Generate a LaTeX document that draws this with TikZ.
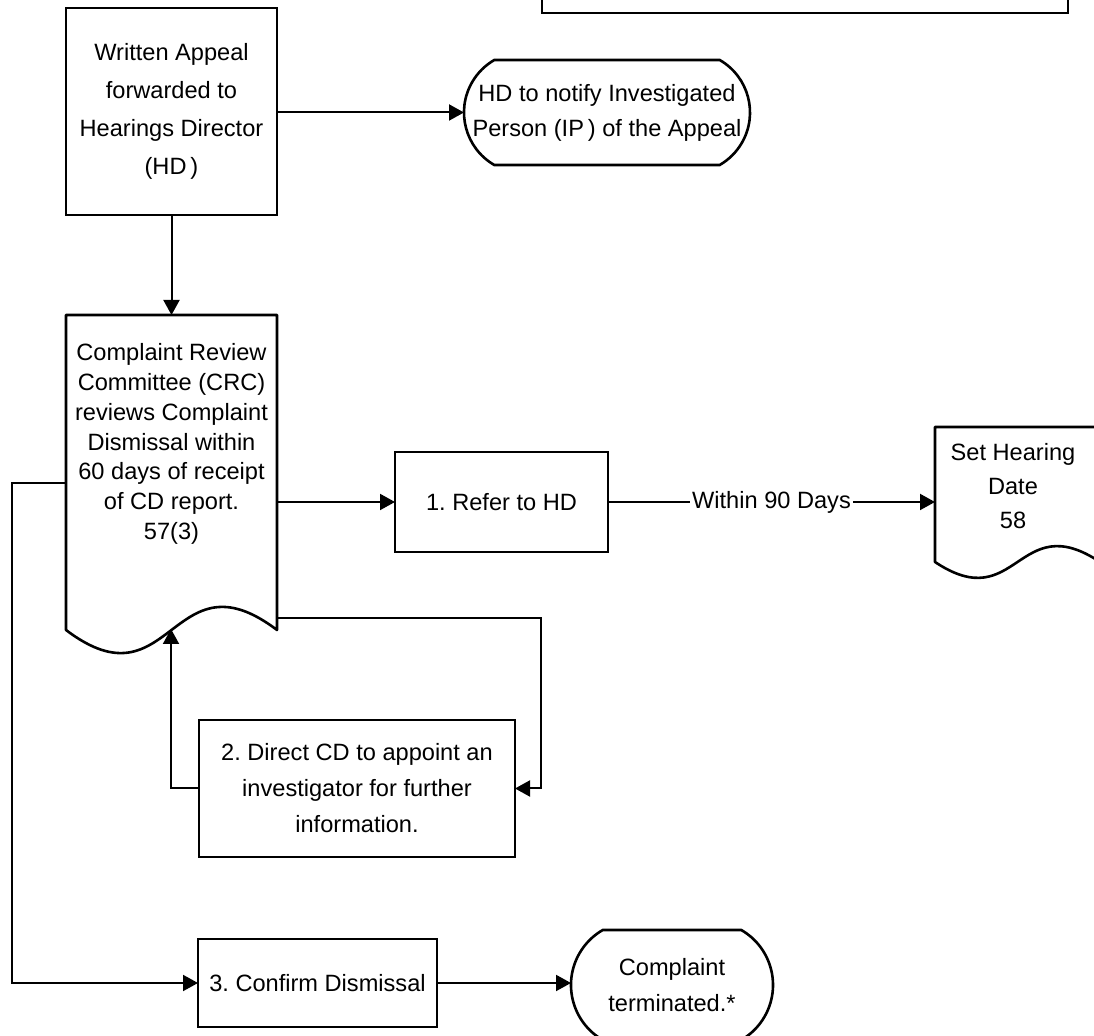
\documentclass[tikz,border=0pt]{standalone}
\usepackage{fontspec}
\setmainfont{Liberation Sans}
\usetikzlibrary{arrows.meta,positioning,shapes.misc,calc}
\tikzset{
  procbox/.style={draw=black,line width=1.3pt,align=center,inner sep=2pt,
                  outer sep=0pt,font=\fontsize{11.8}{18}\selectfont},
  termbox/.style={procbox,rounded rectangle,rounded rectangle arc length=120},
  docnode/.style={draw=none,inner sep=0pt,outer sep=0pt},
  doctext/.style={align=center,inner sep=0pt},
  docline/.style={draw=black,line width=1.3pt,line join=round},
  flow/.style={-{Triangle[length=7.5pt,width=8pt]},line width=1pt},
  lbl/.style={fill=white,inner sep=1pt,font=\fontsize{11.8}{14}\selectfont}
}
\newcommand{\docoutline}[3]{%
  \draw[docline] (#1.north west) -- (#1.north east) -- (#1.south east)
    .. controls ($(#1.south east)+(-#2,-#3)$) and ($(#1.south west)+(#2,#3)$)
    .. (#1.south west) -- cycle;}

\begin{document}
\begin{tikzpicture}[x=0.5pt,y=-0.5pt]
    \path[use as bounding box] (0,0) rectangle (1094,1036);
    \fill[white] (0,0) rectangle (1094,1036);
    \clip (0,0) rectangle (1094,1036);

    \node[procbox,minimum width=263pt,minimum height=30pt] (topbox) at (805,-17) {};

    \node[procbox,minimum width=105.5pt,minimum height=103.5pt,
          font=\fontsize{11.8}{19}\selectfont] (written) at (171.5,111.5)
      {Written Appeal\\forwarded to\\Hearings Director\\(HD\,)};
    \node[termbox,minimum width=147pt,minimum height=52.5pt,
          font=\fontsize{11.8}{17.5}\selectfont] (notify) at (607,112.5)
      {HD to notify Investigated\\Person (IP\,) of the Appeal};

    % review committee, document shape
    \node[docnode,minimum width=105.5pt,minimum height=157.5pt] (crc) at (171.5,472.5) {};
    \docoutline{crc}{105.5}{80}
    \node[doctext,font=\fontsize{11.8}{14.9}\selectfont] (crctext) at (171.5,444)
      {Complaint Review\\Committee (CRC)\\reviews Complaint\\Dismissal within\\
       60 days of receipt\\of CD report.\\57(3)};

    \node[procbox,minimum width=106.5pt,minimum height=50pt] (refer) at (501.5,502)
      {1.\ Refer to HD};

    \node[docnode,minimum width=82.5pt,minimum height=67.5pt] (sethear) at (1017.5,494.5) {};
    \docoutline{sethear}{82.5}{55}
    \node[doctext,font=\fontsize{11.8}{17}\selectfont] (sethtext) at (1013,486)
      {Set Hearing\\Date\\58};

    \node[procbox,minimum width=158pt,minimum height=68.5pt] (direct) at (357,788.5)
      {2.\ Direct CD to appoint an\\investigator for further\\information.};
    \node[procbox,minimum width=119.5pt,minimum height=44pt] (confirm) at (317.5,983)
      {3.\ Confirm Dismissal};
    \node[termbox,minimum width=105pt,minimum height=55pt] (term) at (672,985)
      {Complaint\\terminated.*};

    \coordinate (lbend) at (12,483);
    \coordinate (rbend) at (541,618);
    \coordinate (crcin) at (171,629);

    \draw[flow] (written.east |- notify.west) -- (notify.west);
    \draw[flow] (written.south) -- (crc.north);
    \draw[flow] (crc.east |- refer.west) -- (refer.west);
    \draw[flow] (refer.east) -- (refer.east -| sethear.west)
      node[lbl,midway] {Within 90 Days};
    \draw[flow] (crc.west |- lbend) -- (lbend) |- (confirm.west);
    \draw[flow] (crc.east |- rbend) -- (rbend) |- (direct.east);
    \draw[flow] (direct.west) -| (crcin);
    \draw[flow] (confirm.east) -- (confirm.east -| term.west);
\end{tikzpicture}
\end{document}
